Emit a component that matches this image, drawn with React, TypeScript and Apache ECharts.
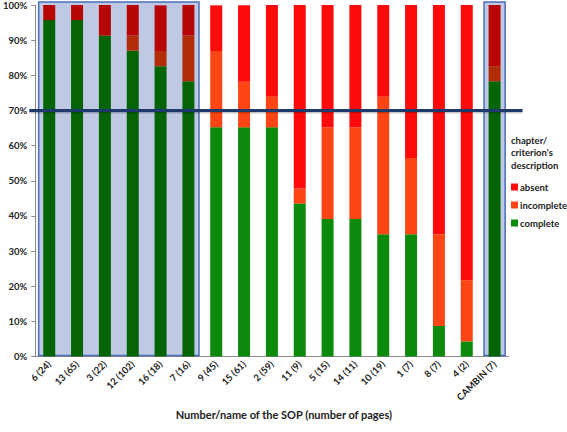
import React, { useEffect, useRef } from "react";
import * as echarts from "echarts";

const categories = ["6 (24)", "13 (65)", "3 (22)", "12 (102)", "16 (18)", "7 (16)", "9 (45)", "15 (61)", "2 (59)", "11 (9)", "5 (15)", "14 (11)", "10 (19)", "1 (7)", "8 (7)", "4 (2)", "CAMBIN (7)"];
const complete = [95.7, 95.7, 91.3, 87.0, 82.6, 78.3, 65.2, 65.2, 65.2, 43.5, 39.1, 39.1, 34.8, 34.8, 8.7, 4.3, 78.3];
const incomplete = [0, 0, 0, 4.3, 4.3, 13.0, 21.7, 13.0, 8.7, 4.3, 26.1, 26.1, 39.1, 21.7, 26.1, 17.4, 4.3];
const absent = [4.3, 4.3, 8.7, 8.7, 13.0, 8.7, 13.0, 21.7, 26.1, 52.2, 34.8, 34.8, 26.1, 43.5, 65.2, 78.3, 17.4];
const highlightedGroups = [[0, 5], [16, 16]];
const threshold = [70];

const FONT = "Lato, 'Noto Sans', sans-serif";

const COLORS = {
  complete: { normal: "#0B8A0B", dark: "#056405" },
  incomplete: { normal: "#FF4513", dark: "#B22C08" },
  absent: { normal: "#FF0A0A", dark: "#B70505" },
};

function isHighlighted(i: number) {
  return highlightedGroups.some(([a, b]) => i >= a && i <= b);
}

function buildData(values: number[], key: keyof typeof COLORS) {
  return values.map((v, i) => ({
    value: v,
    itemStyle: { color: isHighlighted(i) ? COLORS[key].dark : COLORS[key].normal },
  }));
}

export default function App() {
  const ref = useRef<HTMLDivElement>(null);
  useEffect(() => {
    if (!ref.current) return;
    const chart = echarts.init(ref.current, undefined, { renderer: "svg" });
    const option: any = {
      animation: false,
      backgroundColor: "#ffffff",
      textStyle: { fontFamily: FONT },
      grid: { left: 33, right: 58.5, top: 5, bottom: 75.5 },
      title: {
        text: "chapter/\ncriterion's\ndescription",
        left: 511,
        top: 134,
        padding: 0,
        textStyle: { fontFamily: FONT, fontSize: 9.5, fontWeight: "bold", color: "#222", lineHeight: 12.5 },
      },
      legend: {
        data: ["absent", "incomplete", "complete"],
        orient: "vertical",
        left: 506,
        top: 177,
        itemWidth: 7,
        itemHeight: 7,
        itemGap: 8,
        icon: "rect",
        textStyle: { fontFamily: FONT, fontSize: 9.5, fontWeight: "bold", color: "#222", padding: [0, 0, 0, -3] },
      },
      xAxis: {
        type: "category",
        data: categories,
        name: "Number/name of the SOP (number of pages)",
        nameLocation: "middle",
        nameGap: 38,
        nameTextStyle: { fontFamily: FONT, fontSize: 11, fontWeight: "bold", color: "#222", padding: [0, 0, 0, 24] },
        axisLine: { lineStyle: { color: "#8a8a8a" } },
        axisTick: { lineStyle: { color: "#8a8a8a" }, length: 4 },
        axisLabel: { rotate: 45, fontFamily: FONT, fontSize: 9.5, fontWeight: "bold", color: "#222", margin: 6, interval: 0 },
      },
      yAxis: {
        type: "value",
        min: 0,
        max: 100,
        interval: 10,
        splitLine: { show: false },
        axisLine: { show: true, lineStyle: { color: "#8a8a8a" } },
        axisTick: { show: true, length: 4, lineStyle: { color: "#8a8a8a" } },
        axisLabel: { formatter: "{value}%", fontFamily: FONT, fontSize: 9.5, fontWeight: "bold", color: "#222", margin: 8 },
      },
      series: [
        {
          type: "custom",
          name: "highlight",
          z: 1,
          silent: true,
          data: highlightedGroups,
          encode: { x: [0, 1] },
          renderItem: (params: any, api: any) => {
            const s = api.value(0);
            const e = api.value(1);
            const bw = api.size([1, 0])[0];
            const p0 = api.coord([s, 100]);
            const p1 = api.coord([e, 0]);
            const inset = bw * 0.12;
            return {
              type: "rect",
              shape: {
                x: p0[0] - bw / 2 + inset,
                y: p0[1] - 3,
                width: p1[0] - p0[0] + bw - 2 * inset,
                height: p1[1] - p0[1] + 2,
              },
              style: { fill: "#BFC9E3", stroke: "#4A6EBB", lineWidth: 1.5 },
            };
          },
        },
        {
          type: "bar",
          name: "complete",
          stack: "s",
          z: 2,
          barWidth: 12,
          itemStyle: { color: COLORS.complete.normal },
          data: buildData(complete, "complete"),
        },
        {
          type: "bar",
          name: "incomplete",
          stack: "s",
          z: 2,
          barWidth: 12,
          itemStyle: { color: COLORS.incomplete.normal },
          data: buildData(incomplete, "incomplete"),
        },
        {
          type: "bar",
          name: "absent",
          stack: "s",
          z: 2,
          barWidth: 12,
          itemStyle: { color: COLORS.absent.normal },
          data: buildData(absent, "absent"),
        },
        {
          type: "custom",
          name: "threshold",
          z: 5,
          silent: true,
          clip: false,
          data: threshold.map((v) => [0, categories.length - 1, v]),
          encode: { x: [0, 1], y: 2 },
          renderItem: (params: any, api: any) => {
            const v = api.value(2);
            const bw = api.size([1, 0])[0];
            const a = api.coord([api.value(0), v]);
            const b = api.coord([api.value(1), v]);
            const x1 = a[0] - bw / 2 - 6;
            const x2 = b[0] + bw / 2 + 14;
            return {
              type: "group",
              children: [
                {
                  type: "line",
                  shape: { x1, y1: a[1] + 1.5, x2, y2: b[1] + 1.5 },
                  style: { stroke: "rgba(0,0,0,0.22)", lineWidth: 3 },
                },
                {
                  type: "line",
                  shape: { x1, y1: a[1], x2, y2: b[1] },
                  style: { stroke: "#1E3A6C", lineWidth: 3 },
                },
              ],
            };
          },
        },
      ],
    };
    chart.setOption(option);
    return () => chart.dispose();
  }, []);
  return (
    <div
      ref={ref}
      style={{ position: "absolute", left: 0, top: 0, width: 567, height: 432, overflow: "hidden" }}
    />
  );
}
